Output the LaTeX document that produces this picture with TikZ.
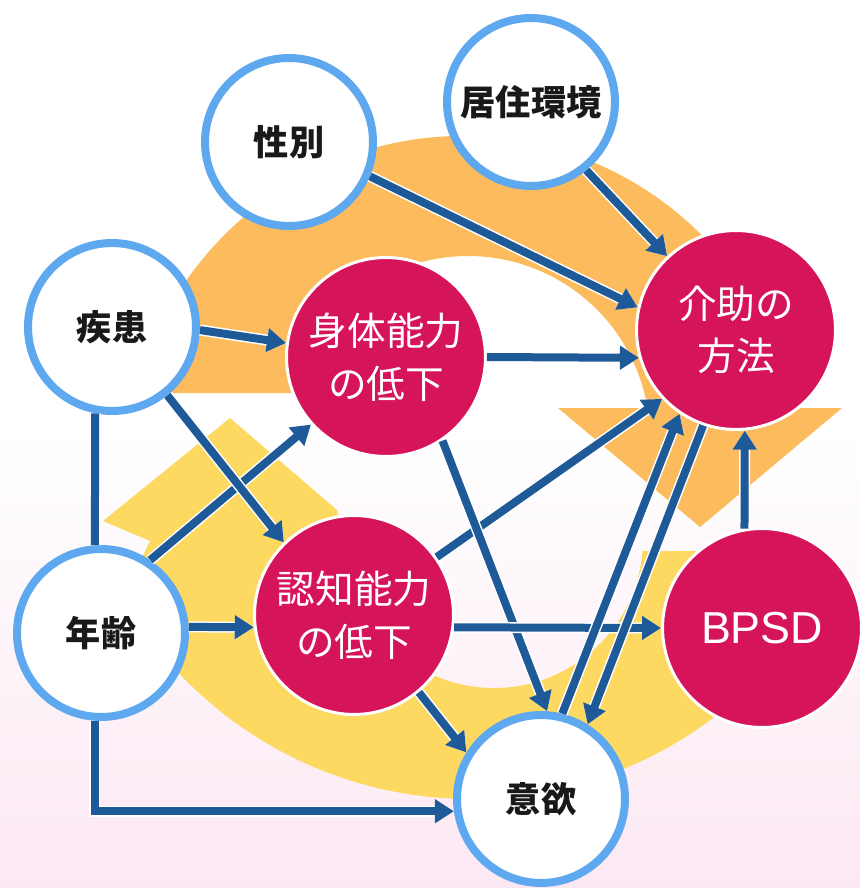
\documentclass[tikz,border=0pt]{standalone}
\usepackage{fontspec}
\setmainfont{Noto Sans CJK JP}
\newfontfamily\latinfont{Liberation Sans}
\usetikzlibrary{arrows.meta}
\definecolor{ringblue}{HTML}{5EA8F0}
\definecolor{linkblue}{HTML}{1F5A98}
\definecolor{crimson}{HTML}{D6145A}
\definecolor{bandorange}{HTML}{FCBC5E}
\definecolor{bandyellow}{HTML}{FDD962}
\definecolor{blush}{HTML}{FCE8F3}
\tikzset{
	factor/.style={circle, draw=ringblue, fill=white, line width=0.16cm, minimum size=3.36cm, inner sep=0pt,
			font=\fontsize{20}{29}\selectfont\bfseries, text=black!90, align=center},
	effect/.style={circle, draw=white, fill=crimson, line width=0.06cm, minimum size=3.98cm, inner sep=0pt,
			font=\fontsize{22}{30}\selectfont, text=white, align=center},
	link/.style={draw=linkblue, line width=0.16cm, preaction={draw=white, line width=0.22cm}},
	arrow/.style={link, -{Triangle[length=0.38cm, width=0.46cm]}}
}

\begin{document}
\begin{tikzpicture}[x=0.02cm, y=-0.02cm]
	\useasboundingbox (0,0) rectangle (860,888);
	\fill[white] (0,0) rectangle (860,888);
	\shade[top color=white, bottom color=blush] (0,430) rectangle (860,888);
	\fill[bandorange] (463,473) ++(193.7:337) arc[start angle=193.7, end angle=348.9, radius=337]
		-- (842,408) -- (700,527) -- (558,408) -- (647.5,408) arc[start angle=350.5, end angle=194.3, radius=182] -- cycle;
	\fill[bandyellow] (642.5,551) -- (720,551) -- (800.3,627.6) arc[start angle=35, end angle=150, radius=402]
		-- (150,541) -- (103,521) -- (230,418) -- (337,510) -- (345,539) arc[start angle=180, end angle=4.6, radius=149] -- cycle;

	\node[factor] (seibetsu) at (289,142) {性別};
	\node[factor] (kyoju) at (531,102) {居住環境};
	\node[factor] (shikkan) at (112,327) {疾患};
	\node[factor] (nenrei) at (101,633) {年齢};
	\node[factor] (iyoku) at (541,799) {意欲};
	\node[effect] (shintai) at (386,357) {身体能力\\の低下};
	\node[effect] (ninchi) at (354,615) {認知能力\\の低下};
	\node[effect] (kaijo) at (736,330) {介助の\\方法};
	\node[effect, font=\latinfont\fontsize{25.5}{30}\selectfont] (bpsd) at (762,628) {BPSD};

	\draw[arrow] (seibetsu.-23) -- (kaijo.167);
	\draw[arrow] (kyoju.-51) -- (kaijo.133);
	\draw[arrow] (shikkan.-2) -- (shintai.172);
	\draw[arrow] (shintai.east) -- (kaijo.196);
	\draw[arrow] (nenrei.56) -- (shintai.222);
	\draw[arrow] (shikkan.-51) -- (ninchi.134);
	\draw[link] (shikkan.-101) -- (nenrei.94);
	\draw[arrow] (nenrei.266) |- (iyoku.188);
	\draw[arrow] (nenrei.4) -- (ninchi.187);
	\draw[arrow] (ninchi.35) -- (kaijo.223);
	\draw[arrow] (shintai.-56) -- (iyoku.86);
	\draw[arrow] (ninchi.-50) -- (iyoku.148);
	\draw[arrow] (ninchi.-7) -- (bpsd.west);
	\draw[arrow] (iyoku.76) -- (kaijo.236);
	\draw[arrow] (kaijo.251) -- (iyoku.58);
	\draw[arrow] (bpsd.100) -- (kaijo.-85);
\end{tikzpicture}
\end{document}
